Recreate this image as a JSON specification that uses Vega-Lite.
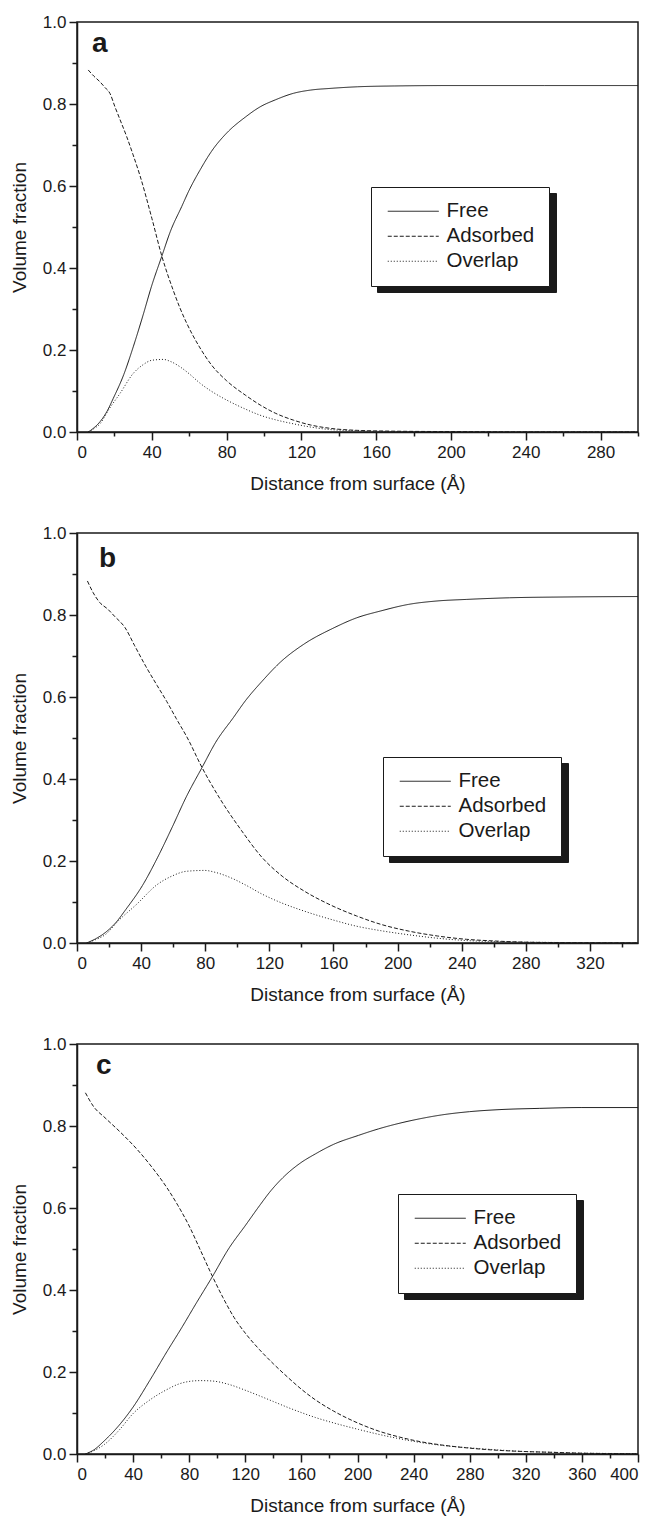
{
  "$schema": "https://vega.github.io/schema/vega-lite/v6.json",
  "padding": {"left": 9, "top": 12, "right": 5, "bottom": 0},
  "background": "white",
  "datasets": {
    "a": [
      {"s":"Free","x":6,"v":0},{"s":"Free","x":9,"v":0.01},{"s":"Free","x":12.3,"v":0.025},{"s":"Free","x":16,"v":0.05},{"s":"Free","x":19.4,"v":0.082},{"s":"Free","x":25,"v":0.14},{"s":"Free","x":30.1,"v":0.208},{"s":"Free","x":35,"v":0.28},{"s":"Free","x":40.1,"v":0.359},{"s":"Free","x":45.3,"v":0.428},{"s":"Free","x":50,"v":0.49},{"s":"Free","x":56,"v":0.55},{"s":"Free","x":60,"v":0.59},{"s":"Free","x":65.8,"v":0.639},{"s":"Free","x":72,"v":0.685},{"s":"Free","x":80,"v":0.729},{"s":"Free","x":90,"v":0.768},{"s":"Free","x":97.9,"v":0.793},{"s":"Free","x":106,"v":0.81},{"s":"Free","x":115.7,"v":0.826},{"s":"Free","x":125,"v":0.834},{"s":"Free","x":135.3,"v":0.838},{"s":"Free","x":150,"v":0.842},{"s":"Free","x":170,"v":0.844},{"s":"Free","x":200,"v":0.845},{"s":"Free","x":250,"v":0.845},{"s":"Free","x":300,"v":0.845},
      {"s":"Adsorbed","x":6,"v":0.883},{"s":"Adsorbed","x":9,"v":0.868},{"s":"Adsorbed","x":12.3,"v":0.854},{"s":"Adsorbed","x":15,"v":0.84},{"s":"Adsorbed","x":17.6,"v":0.826},{"s":"Adsorbed","x":20.3,"v":0.793},{"s":"Adsorbed","x":23,"v":0.762},{"s":"Adsorbed","x":26.6,"v":0.72},{"s":"Adsorbed","x":30,"v":0.676},{"s":"Adsorbed","x":33.7,"v":0.625},{"s":"Adsorbed","x":40.1,"v":0.52},{"s":"Adsorbed","x":45.3,"v":0.43},{"s":"Adsorbed","x":51.5,"v":0.345},{"s":"Adsorbed","x":55.1,"v":0.302},{"s":"Adsorbed","x":58.7,"v":0.265},{"s":"Adsorbed","x":65.8,"v":0.205},{"s":"Adsorbed","x":72,"v":0.163},{"s":"Adsorbed","x":80,"v":0.125},{"s":"Adsorbed","x":90,"v":0.09},{"s":"Adsorbed","x":97.9,"v":0.066},{"s":"Adsorbed","x":106,"v":0.046},{"s":"Adsorbed","x":115.7,"v":0.029},{"s":"Adsorbed","x":125,"v":0.017},{"s":"Adsorbed","x":135.3,"v":0.009},{"s":"Adsorbed","x":150,"v":0.004},{"s":"Adsorbed","x":170,"v":0.002},{"s":"Adsorbed","x":200,"v":0.001},{"s":"Adsorbed","x":250,"v":0},{"s":"Adsorbed","x":300,"v":0},
      {"s":"Overlap","x":6,"v":0},{"s":"Overlap","x":9,"v":0.008},{"s":"Overlap","x":12.3,"v":0.02},{"s":"Overlap","x":17,"v":0.055},{"s":"Overlap","x":23,"v":0.094},{"s":"Overlap","x":30.1,"v":0.143},{"s":"Overlap","x":35,"v":0.163},{"s":"Overlap","x":40.1,"v":0.175},{"s":"Overlap","x":46.2,"v":0.177},{"s":"Overlap","x":50,"v":0.172},{"s":"Overlap","x":55.1,"v":0.159},{"s":"Overlap","x":60,"v":0.142},{"s":"Overlap","x":65.8,"v":0.119},{"s":"Overlap","x":72,"v":0.099},{"s":"Overlap","x":80,"v":0.078},{"s":"Overlap","x":90,"v":0.056},{"s":"Overlap","x":97.9,"v":0.041},{"s":"Overlap","x":106,"v":0.03},{"s":"Overlap","x":115.7,"v":0.02},{"s":"Overlap","x":125,"v":0.012},{"s":"Overlap","x":135.3,"v":0.006},{"s":"Overlap","x":150,"v":0.003},{"s":"Overlap","x":170,"v":0.001},{"s":"Overlap","x":200,"v":0},{"s":"Overlap","x":300,"v":0}
    ],
    "b": [
      {"s":"Free","x":6,"v":0},{"s":"Free","x":11.5,"v":0.01},{"s":"Free","x":17.5,"v":0.025},{"s":"Free","x":24.3,"v":0.05},{"s":"Free","x":30.5,"v":0.082},{"s":"Free","x":40.8,"v":0.14},{"s":"Free","x":50.2,"v":0.208},{"s":"Free","x":59.1,"v":0.28},{"s":"Free","x":68.5,"v":0.359},{"s":"Free","x":78,"v":0.428},{"s":"Free","x":86.6,"v":0.49},{"s":"Free","x":97.6,"v":0.55},{"s":"Free","x":104.9,"v":0.59},{"s":"Free","x":115.6,"v":0.639},{"s":"Free","x":126.9,"v":0.685},{"s":"Free","x":141.6,"v":0.729},{"s":"Free","x":159.9,"v":0.768},{"s":"Free","x":174.4,"v":0.793},{"s":"Free","x":189.6,"v":0.81},{"s":"Free","x":207,"v":0.826},{"s":"Free","x":224,"v":0.834},{"s":"Free","x":242.9,"v":0.838},{"s":"Free","x":269.8,"v":0.842},{"s":"Free","x":306.4,"v":0.844},{"s":"Free","x":350,"v":0.845},
      {"s":"Adsorbed","x":6.5,"v":0.883},{"s":"Adsorbed","x":10,"v":0.855},{"s":"Adsorbed","x":14.3,"v":0.83},{"s":"Adsorbed","x":19,"v":0.815},{"s":"Adsorbed","x":23.4,"v":0.797},{"s":"Adsorbed","x":30,"v":0.769},{"s":"Adsorbed","x":36,"v":0.725},{"s":"Adsorbed","x":42.9,"v":0.675},{"s":"Adsorbed","x":50,"v":0.628},{"s":"Adsorbed","x":56,"v":0.589},{"s":"Adsorbed","x":62,"v":0.547},{"s":"Adsorbed","x":68.9,"v":0.5},{"s":"Adsorbed","x":78,"v":0.428},{"s":"Adsorbed","x":89.5,"v":0.35},{"s":"Adsorbed","x":102.5,"v":0.275},{"s":"Adsorbed","x":115.6,"v":0.208},{"s":"Adsorbed","x":128,"v":0.163},{"s":"Adsorbed","x":141.6,"v":0.127},{"s":"Adsorbed","x":158,"v":0.093},{"s":"Adsorbed","x":174.4,"v":0.066},{"s":"Adsorbed","x":190,"v":0.045},{"s":"Adsorbed","x":207,"v":0.029},{"s":"Adsorbed","x":225,"v":0.017},{"s":"Adsorbed","x":243,"v":0.009},{"s":"Adsorbed","x":260,"v":0.005},{"s":"Adsorbed","x":280,"v":0.002},{"s":"Adsorbed","x":300,"v":0.001},{"s":"Adsorbed","x":350,"v":0},
      {"s":"Overlap","x":6,"v":0},{"s":"Overlap","x":11.5,"v":0.008},{"s":"Overlap","x":17.5,"v":0.02},{"s":"Overlap","x":26,"v":0.055},{"s":"Overlap","x":37.1,"v":0.094},{"s":"Overlap","x":50.2,"v":0.143},{"s":"Overlap","x":59.1,"v":0.163},{"s":"Overlap","x":68.5,"v":0.175},{"s":"Overlap","x":79.6,"v":0.177},{"s":"Overlap","x":86.6,"v":0.172},{"s":"Overlap","x":96,"v":0.159},{"s":"Overlap","x":104.9,"v":0.142},{"s":"Overlap","x":115.6,"v":0.119},{"s":"Overlap","x":126.9,"v":0.099},{"s":"Overlap","x":141.6,"v":0.078},{"s":"Overlap","x":159.9,"v":0.056},{"s":"Overlap","x":174.4,"v":0.041},{"s":"Overlap","x":189.6,"v":0.03},{"s":"Overlap","x":207,"v":0.02},{"s":"Overlap","x":224,"v":0.012},{"s":"Overlap","x":242.9,"v":0.006},{"s":"Overlap","x":269.8,"v":0.003},{"s":"Overlap","x":306.4,"v":0.001},{"s":"Overlap","x":350,"v":0}
    ],
    "c": [
      {"s":"Free","x":6,"v":0},{"s":"Free","x":12,"v":0.01},{"s":"Free","x":19.4,"v":0.032},{"s":"Free","x":30,"v":0.07},{"s":"Free","x":40.1,"v":0.115},{"s":"Free","x":52,"v":0.18},{"s":"Free","x":64,"v":0.249},{"s":"Free","x":75,"v":0.31},{"s":"Free","x":84.7,"v":0.366},{"s":"Free","x":96.6,"v":0.433},{"s":"Free","x":108,"v":0.5},{"s":"Free","x":120.4,"v":0.559},{"s":"Free","x":130,"v":0.605},{"s":"Free","x":138.2,"v":0.642},{"s":"Free","x":148,"v":0.678},{"s":"Free","x":159,"v":0.709},{"s":"Free","x":170,"v":0.732},{"s":"Free","x":182.8,"v":0.755},{"s":"Free","x":200.6,"v":0.777},{"s":"Free","x":215,"v":0.793},{"s":"Free","x":230.3,"v":0.807},{"s":"Free","x":245,"v":0.818},{"s":"Free","x":260,"v":0.827},{"s":"Free","x":280,"v":0.835},{"s":"Free","x":301.6,"v":0.84},{"s":"Free","x":330,"v":0.843},{"s":"Free","x":360,"v":0.845},{"s":"Free","x":400,"v":0.845},
      {"s":"Adsorbed","x":6,"v":0.881},{"s":"Adsorbed","x":11.9,"v":0.847},{"s":"Adsorbed","x":20,"v":0.82},{"s":"Adsorbed","x":31.2,"v":0.784},{"s":"Adsorbed","x":43.1,"v":0.742},{"s":"Adsorbed","x":54,"v":0.697},{"s":"Adsorbed","x":64,"v":0.65},{"s":"Adsorbed","x":72,"v":0.606},{"s":"Adsorbed","x":80,"v":0.556},{"s":"Adsorbed","x":88,"v":0.497},{"s":"Adsorbed","x":96.6,"v":0.433},{"s":"Adsorbed","x":104,"v":0.382},{"s":"Adsorbed","x":112,"v":0.333},{"s":"Adsorbed","x":120.4,"v":0.293},{"s":"Adsorbed","x":130,"v":0.255},{"s":"Adsorbed","x":140,"v":0.22},{"s":"Adsorbed","x":150,"v":0.188},{"s":"Adsorbed","x":160,"v":0.158},{"s":"Adsorbed","x":170,"v":0.132},{"s":"Adsorbed","x":182.8,"v":0.105},{"s":"Adsorbed","x":200.6,"v":0.075},{"s":"Adsorbed","x":215,"v":0.056},{"s":"Adsorbed","x":230.3,"v":0.041},{"s":"Adsorbed","x":245,"v":0.03},{"s":"Adsorbed","x":260,"v":0.022},{"s":"Adsorbed","x":280.8,"v":0.014},{"s":"Adsorbed","x":300,"v":0.009},{"s":"Adsorbed","x":319.4,"v":0.006},{"s":"Adsorbed","x":340,"v":0.004},{"s":"Adsorbed","x":360,"v":0.002},{"s":"Adsorbed","x":380,"v":0.001},{"s":"Adsorbed","x":400,"v":0},
      {"s":"Overlap","x":6,"v":0},{"s":"Overlap","x":12,"v":0.008},{"s":"Overlap","x":19.4,"v":0.023},{"s":"Overlap","x":30,"v":0.058},{"s":"Overlap","x":40.1,"v":0.099},{"s":"Overlap","x":52,"v":0.132},{"s":"Overlap","x":64,"v":0.157},{"s":"Overlap","x":72,"v":0.17},{"s":"Overlap","x":80,"v":0.177},{"s":"Overlap","x":88,"v":0.179},{"s":"Overlap","x":96.6,"v":0.178},{"s":"Overlap","x":108,"v":0.17},{"s":"Overlap","x":120.4,"v":0.155},{"s":"Overlap","x":130,"v":0.142},{"s":"Overlap","x":140,"v":0.128},{"s":"Overlap","x":150,"v":0.114},{"s":"Overlap","x":160,"v":0.101},{"s":"Overlap","x":170,"v":0.089},{"s":"Overlap","x":182.8,"v":0.076},{"s":"Overlap","x":200.6,"v":0.06},{"s":"Overlap","x":215,"v":0.048},{"s":"Overlap","x":230.3,"v":0.037},{"s":"Overlap","x":245,"v":0.028},{"s":"Overlap","x":260,"v":0.021},{"s":"Overlap","x":280,"v":0.015},{"s":"Overlap","x":300,"v":0.01},{"s":"Overlap","x":319.4,"v":0.006},{"s":"Overlap","x":340,"v":0.004},{"s":"Overlap","x":360,"v":0.002},{"s":"Overlap","x":400,"v":0.001}
    ],
    "keys": [{"k":"Free"},{"k":"Adsorbed"},{"k":"Overlap"}]
  },
  "spacing": 29,
  "resolve": {
    "scale": {"color": "independent", "strokeDash": "independent"},
    "legend": {"color": "independent", "strokeDash": "independent"}
  },
  "vconcat": [
    {
      "width": 561, "height": 410,
      "title": {"text": "a", "offset": -45, "dx": 15},
      "data": {"name": "a"},
      "resolve": {"axis": {"x": "independent", "y": "independent"}},
      "layer": [
        {
          "data": {"name": "keys"},
          "mark": {"type": "point", "opacity": 0},
          "encoding": {
            "color": {"field": "k", "type": "nominal", "scale": {"range": ["#1a1a1a","#1a1a1a","#1a1a1a"]},
              "legend": {"title": null, "legendX": 300, "legendY": 171, "fillColor": "#1a1a1a", "strokeColor": "#1a1a1a", "labelColor": "#1a1a1a", "symbolStrokeColor": "#1a1a1a", "symbolFillColor": "#1a1a1a", "labelExpr": "''", "labelOffset": 112}}
          }
        },
        {
          "mark": {"type": "line", "color": "#1a1a1a", "strokeWidth": 1, "interpolate": "monotone"},
          "encoding": {
            "x": {"field": "x", "type": "quantitative", "scale": {"domain": [0, 300], "nice": false},
              "axis": {"orient": "bottom", "values": [0,40,80,120,160,200,240,280], "title": "Distance from surface (Å)", "tickSize": 8, "labelPadding": 4, "titlePadding": 14}},
            "y": {"field": "v", "type": "quantitative", "scale": {"domain": [0, 1], "nice": false},
              "axis": {"orient": "left", "values": [0,0.2,0.4,0.6,0.8,1.0], "format": ".1f", "title": "Volume fraction", "tickSize": 8, "labelPadding": 3, "titlePadding": 13}},
            "strokeDash": {"field": "s", "type": "nominal", "scale": {"domain": ["Free","Adsorbed","Overlap"], "range": [[1,0],[4,2],[1,2]]},
              "legend": {"title": null, "legendX": 294, "legendY": 165, "fillColor": "white", "strokeColor": "#1a1a1a", "symbolStrokeColor": "#1a1a1a"}}
          }
        },
        {
          "mark": {"type": "line", "opacity": 0},
          "encoding": {
            "x": {"field": "x", "type": "quantitative", "axis": {"orient": "bottom", "values": [20,60,100,140,180,220,260,300], "labels": false, "domain": false, "tickSize": 4, "title": null}},
            "y": {"field": "v", "type": "quantitative", "axis": {"orient": "left", "values": [0.1,0.3,0.5,0.7,0.9], "labels": false, "domain": false, "tickSize": 5, "title": null}}
          }
        }
      ]
    },
    {
      "width": 561, "height": 410,
      "title": {"text": "b", "offset": -49, "dx": 22},
      "data": {"name": "b"},
      "resolve": {"axis": {"x": "independent", "y": "independent"}},
      "layer": [
        {
          "data": {"name": "keys"},
          "mark": {"type": "point", "opacity": 0},
          "encoding": {
            "color": {"field": "k", "type": "nominal", "scale": {"range": ["#1a1a1a","#1a1a1a","#1a1a1a"]},
              "legend": {"title": null, "legendX": 312, "legendY": 230, "fillColor": "#1a1a1a", "strokeColor": "#1a1a1a", "labelColor": "#1a1a1a", "symbolStrokeColor": "#1a1a1a", "symbolFillColor": "#1a1a1a", "labelExpr": "''", "labelOffset": 112}}
          }
        },
        {
          "mark": {"type": "line", "color": "#1a1a1a", "strokeWidth": 1, "interpolate": "monotone"},
          "encoding": {
            "x": {"field": "x", "type": "quantitative", "scale": {"domain": [0, 350], "nice": false},
              "axis": {"orient": "bottom", "values": [0,40,80,120,160,200,240,280,320], "title": "Distance from surface (Å)", "tickSize": 8, "labelPadding": 4, "titlePadding": 14}},
            "y": {"field": "v", "type": "quantitative", "scale": {"domain": [0, 1], "nice": false},
              "axis": {"orient": "left", "values": [0,0.2,0.4,0.6,0.8,1.0], "format": ".1f", "title": "Volume fraction", "tickSize": 8, "labelPadding": 3, "titlePadding": 13}},
            "strokeDash": {"field": "s", "type": "nominal", "scale": {"domain": ["Free","Adsorbed","Overlap"], "range": [[1,0],[4,2],[1,2]]},
              "legend": {"title": null, "legendX": 306, "legendY": 224, "fillColor": "white", "strokeColor": "#1a1a1a", "symbolStrokeColor": "#1a1a1a"}}
          }
        },
        {
          "mark": {"type": "line", "opacity": 0},
          "encoding": {
            "x": {"field": "x", "type": "quantitative", "axis": {"orient": "bottom", "values": [20,60,100,140,180,220,260,300,340], "labels": false, "domain": false, "tickSize": 4, "title": null}},
            "y": {"field": "v", "type": "quantitative", "axis": {"orient": "left", "values": [0.1,0.3,0.5,0.7,0.9], "labels": false, "domain": false, "tickSize": 5, "title": null}}
          }
        }
      ]
    },
    {
      "width": 561, "height": 410,
      "title": {"text": "c", "offset": -45, "dx": 19},
      "data": {"name": "c"},
      "resolve": {"axis": {"x": "independent", "y": "independent"}},
      "layer": [
        {
          "data": {"name": "keys"},
          "mark": {"type": "point", "opacity": 0},
          "encoding": {
            "color": {"field": "k", "type": "nominal", "scale": {"range": ["#1a1a1a","#1a1a1a","#1a1a1a"]},
              "legend": {"title": null, "legendX": 327, "legendY": 156, "fillColor": "#1a1a1a", "strokeColor": "#1a1a1a", "labelColor": "#1a1a1a", "symbolStrokeColor": "#1a1a1a", "symbolFillColor": "#1a1a1a", "labelExpr": "''", "labelOffset": 112}}
          }
        },
        {
          "mark": {"type": "line", "color": "#1a1a1a", "strokeWidth": 1, "interpolate": "monotone"},
          "encoding": {
            "x": {"field": "x", "type": "quantitative", "scale": {"domain": [0, 400], "nice": false},
              "axis": {"orient": "bottom", "values": [0,40,80,120,160,200,240,280,320,360,400], "title": "Distance from surface (Å)", "tickSize": 8, "labelPadding": 4, "titlePadding": 14}},
            "y": {"field": "v", "type": "quantitative", "scale": {"domain": [0, 1], "nice": false},
              "axis": {"orient": "left", "values": [0,0.2,0.4,0.6,0.8,1.0], "format": ".1f", "title": "Volume fraction", "tickSize": 8, "labelPadding": 3, "titlePadding": 13}},
            "strokeDash": {"field": "s", "type": "nominal", "scale": {"domain": ["Free","Adsorbed","Overlap"], "range": [[1,0],[4,2],[1,2]]},
              "legend": {"title": null, "legendX": 321, "legendY": 150, "fillColor": "white", "strokeColor": "#1a1a1a", "symbolStrokeColor": "#1a1a1a"}}
          }
        },
        {
          "mark": {"type": "line", "opacity": 0},
          "encoding": {
            "x": {"field": "x", "type": "quantitative", "axis": {"orient": "bottom", "values": [20,60,100,140,180,220,260,300,340,380], "labels": false, "domain": false, "tickSize": 4, "title": null}},
            "y": {"field": "v", "type": "quantitative", "axis": {"orient": "left", "values": [0.1,0.3,0.5,0.7,0.9], "labels": false, "domain": false, "tickSize": 5, "title": null}}
          }
        }
      ]
    }
  ],
  "config": {
    "font": "Liberation Sans",
    "view": {"stroke": "#1a1a1a", "strokeWidth": 1.5},
    "axis": {"grid": false, "domainColor": "#1a1a1a", "domainWidth": 1.5, "tickColor": "#1a1a1a", "tickWidth": 1.5, "labelColor": "#1a1a1a", "titleColor": "#1a1a1a", "labelFontSize": 17, "titleFontSize": 19, "titleFontWeight": "normal", "labelFont": "Liberation Sans", "titleFont": "Liberation Sans"},
    "legend": {"orient": "none", "labelFontSize": 20.5, "labelFont": "Liberation Sans", "labelColor": "#1a1a1a", "symbolType": "M-5,0H5", "symbolSize": 104, "symbolStrokeWidth": 1, "padding": 14, "rowPadding": 4, "labelOffset": 23, "symbolOffset": 18},
    "title": {"fontSize": 28, "fontWeight": "bold", "anchor": "start", "color": "#1a1a1a", "font": "Liberation Sans", "frame": "group"}
  }
}
